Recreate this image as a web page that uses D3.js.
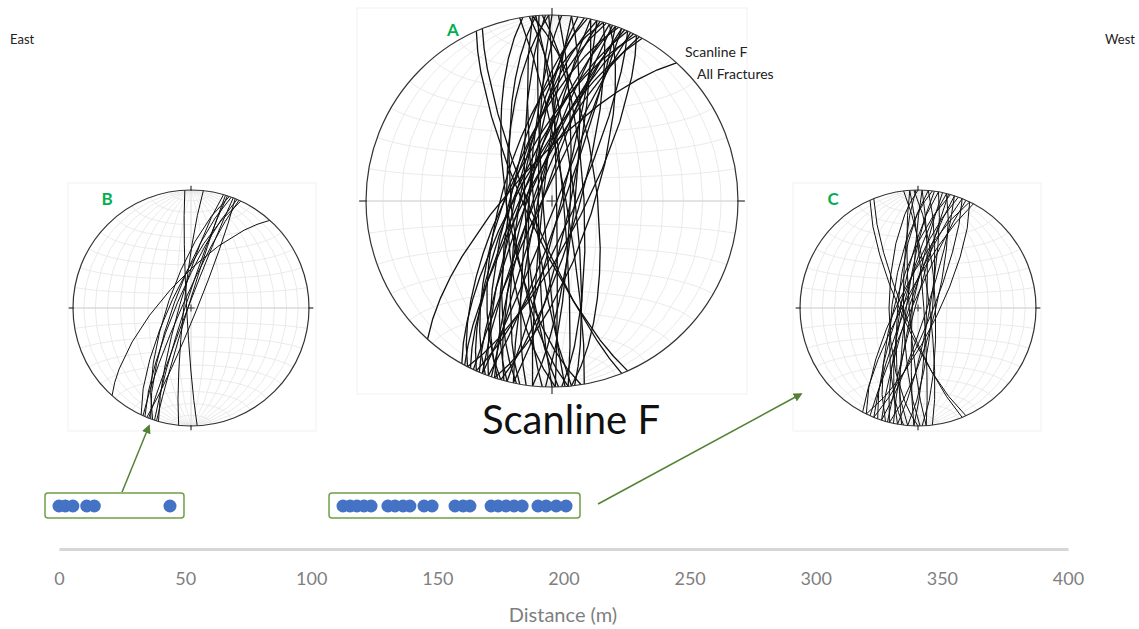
<!DOCTYPE html>
<html>
<head>
<meta charset="utf-8">
<script src="https://cdn.jsdelivr.net/npm/d3@7"></script>
<style>
  body { margin: 0; background: #fff; }
  text { font-family: Lato, 'Open Sans', sans-serif; }
</style>
</head>
<body>
<svg id="chart" width="1139" height="629"></svg>
<script>
// fracture positions along scanline F (m)
const scanGroup1 = [0, 2.5, 5.5, 11, 14, 44];
const scanGroup2 = [112.6, 115.4, 118.1, 120.9, 123.7, 130.4, 133.2, 136.4, 139.1, 144.7, 147.9,
  157, 160.2, 162.9, 171.3, 174.1, 177.2, 180.4, 183.6, 189.9, 193.1, 197.1, 201];
const distTicks = [0, 50, 100, 150, 200, 250, 300, 350, 400];

// fracture planes, right hand rule strike / dip (deg)
// A: all fractures
const netAStrike = [188, 190, 192, 194, 195, 197, 198, 200, 201, 203, 204, 205, 206, 207, 208, 196, 199, 202, 186, 191, 209,
  12, 16, 20, 24, 27, 22, 18, 14,
  353, 355, 357, 359, 2, 354, 6, 350,
  174, 176, 178, 180, 183, 175, 179, 171,
  156, 158, 222];
const netADip = [80, 76, 84, 74, 79, 72, 82, 77, 70, 80, 74, 86, 77, 71, 79, 68, 86, 83, 86, 72, 75,
  82, 78, 85, 80, 76, 88, 72, 86,
  80, 85, 76, 88, 82, 70, 80, 84,
  82, 86, 78, 84, 80, 72, 70, 70,
  78, 80, 73];
// B: first cluster (0-45 m)
const netBStrike = [177, 186, 196, 198, 200, 201, 203, 204, 205, 199, 197, 22, 222];
const netBDip = [87, 85, 82, 86, 78, 88, 80, 84, 76, 74, 88, 86, 71];
// C: second cluster (110-205 m)
const netCStrike = [156, 158, 353, 356, 358, 2, 5, 176, 179, 182, 185, 188, 190, 192, 194, 196, 198, 200, 202, 204,
  206, 208, 10, 14, 18, 22, 26, 195, 187, 180];
const netCDip = [78, 80, 82, 86, 78, 84, 80, 84, 80, 86, 76, 82, 78, 86, 80, 74, 84, 78, 82, 86,
  76, 80, 82, 78, 84, 80, 76, 88, 72, 70];

const svg = d3.select('#chart');
const rad = Math.PI / 180;
const green = '#548235';

// lower hemisphere direction -> lon/lat on a globe whose centre is straight down
const toGeo = (trend, plunge) => {
  const t = trend * rad;
  const p = plunge * rad;
  const x = Math.sin(p);
  const y = Math.cos(p) * Math.sin(t);
  const z = Math.cos(p) * Math.cos(t);
  return [Math.atan2(y, x) / rad, Math.asin(Math.max(-1, Math.min(1, z))) / rad];
};

const planeLine = (strike, dip) => ({
  type: 'LineString',
  coordinates: [toGeo(strike, 0), toGeo(strike + 90, dip), toGeo(strike + 180, 0)],
});

const graticule = d3.geoGraticule()
  .extentMinor([[-180, -90], [180, 90]])
  .step([10, 10]);

const drawNet = (cx, cy, r, strikes, dips, lw) => {
  const g = svg.append('g');
  const proj = d3.geoAzimuthalEqualArea()
    .scale(r / Math.SQRT2)
    .translate([cx, cy])
    .clipAngle(90);
  const path = d3.geoPath(proj);

  g.append('path')
    .datum(graticule())
    .attr('d', path)
    .attr('fill', 'none')
    .attr('stroke', '#e4e4e4')
    .attr('stroke-width', 0.8);

  // equator and central meridian
  g.append('line')
    .attr('x1', cx - r).attr('x2', cx + r).attr('y1', cy).attr('y2', cy)
    .attr('stroke', '#d2d2d2').attr('stroke-width', 1);
  g.append('line')
    .attr('x1', cx).attr('x2', cx).attr('y1', cy - r).attr('y2', cy + r)
    .attr('stroke', '#dedede').attr('stroke-width', 0.8);

  const planeProj = d3.geoAzimuthalEqualArea()
    .scale(r / Math.SQRT2)
    .translate([cx, cy]);
  const planePath = d3.geoPath(planeProj);

  g.selectAll('.plane')
    .data(strikes.map((s, i) => planeLine(s, dips[i])))
    .join('path')
    .attr('class', 'plane')
    .attr('d', planePath)
    .attr('fill', 'none')
    .attr('stroke', '#111')
    .attr('stroke-width', lw);

  g.append('circle')
    .attr('cx', cx).attr('cy', cy).attr('r', r)
    .attr('fill', 'none')
    .attr('stroke', '#333')
    .attr('stroke-width', 1.2);

  // N E S W ticks and centre cross
  const tk = r * 0.037;
  [[0, -1], [1, 0], [0, 1], [-1, 0]].forEach(([dx, dy]) => {
    g.append('line')
      .attr('x1', cx + dx * (r - 1)).attr('y1', cy + dy * (r - 1))
      .attr('x2', cx + dx * (r + tk)).attr('y2', cy + dy * (r + tk))
      .attr('stroke', '#333').attr('stroke-width', 1.2);
  });
  const cc = r * 0.03;
  g.append('path')
    .attr('d', `M${cx - cc},${cy}H${cx + cc}M${cx},${cy - cc}V${cy + cc}`)
    .attr('stroke', '#333').attr('stroke-width', 1);
};

// faint frames of the net images
[[357, 8, 390, 386], [68, 183, 248, 248], [793, 183, 248, 248]].forEach(([x, y, w, h]) => {
  svg.append('rect')
    .attr('x', x).attr('y', y).attr('width', w).attr('height', h)
    .attr('fill', 'none').attr('stroke', '#f1f1f1');
});

drawNet(552, 201, 186, netAStrike, netADip, 1.3);
drawNet(191, 308, 118, netBStrike, netBDip, 1);
drawNet(918, 308, 118, netCStrike, netCDip, 1);

// net labels
[['A', 453, 36], ['B', 107, 205], ['C', 833, 205]].forEach(([t, x, y]) => {
  svg.append('text')
    .attr('x', x).attr('y', y)
    .attr('text-anchor', 'middle')
    .attr('font-size', 17)
    .attr('font-weight', 'bold')
    .attr('fill', '#00b050')
    .text(t);
});

svg.append('text').attr('x', 685).attr('y', 57)
  .attr('font-size', 14).attr('fill', '#222').text('Scanline F');
svg.append('text').attr('x', 697).attr('y', 79)
  .attr('font-size', 14).attr('fill', '#222').text('All Fractures');

svg.append('text').attr('x', 10).attr('y', 44)
  .attr('font-size', 13).attr('fill', '#222').text('East');
svg.append('text').attr('x', 1135).attr('y', 44)
  .attr('text-anchor', 'end')
  .attr('font-size', 13).attr('fill', '#222').text('West');

svg.append('text').attr('x', 571).attr('y', 434)
  .attr('text-anchor', 'middle')
  .attr('font-size', 40).attr('fill', '#111').text('Scanline F');

// distance axis
const x = d3.scaleLinear().domain([0, 400]).range([59, 1068]);
const axisY = 549;

const axis = svg.append('g')
  .attr('transform', `translate(0, ${axisY})`)
  .call(d3.axisBottom(x).tickValues(distTicks).tickSize(0).tickSizeOuter(0).tickPadding(23));
axis.select('.domain')
  .attr('stroke', '#d6d6d6')
  .attr('stroke-width', 3);
axis.selectAll('text')
  .attr('font-family', 'Lato, sans-serif')
  .attr('font-size', 18)
  .attr('fill', '#7f7f7f');

svg.append('text').attr('x', 563).attr('y', 622)
  .attr('text-anchor', 'middle')
  .attr('font-size', 20).attr('fill', '#7f7f7f').text('Distance (m)');

// fracture clusters on the scanline
const dotY = 506;
const pad = 14;
[scanGroup1, scanGroup2].forEach((grp) => {
  const [lo, hi] = d3.extent(grp);
  svg.append('rect')
    .attr('x', x(lo) - pad)
    .attr('y', dotY - 13)
    .attr('width', x(hi) - x(lo) + pad * 2)
    .attr('height', 25)
    .attr('rx', 3)
    .attr('fill', 'none')
    .attr('stroke', '#6f9f45')
    .attr('stroke-width', 1.5);
  svg.selectAll(null)
    .data(grp)
    .join('circle')
    .attr('cx', d => x(d))
    .attr('cy', dotY)
    .attr('r', 6.5)
    .attr('fill', '#4472c4');
});

// arrows from clusters to their nets
svg.append('defs').append('marker')
  .attr('id', 'head')
  .attr('viewBox', '0 0 10 10')
  .attr('refX', 8).attr('refY', 5)
  .attr('markerWidth', 6).attr('markerHeight', 6)
  .attr('orient', 'auto')
  .append('path')
  .attr('d', 'M0,0L10,5L0,10z')
  .attr('fill', green);

const box2Right = x(d3.max(scanGroup2)) + pad;
[[x(25), dotY - 14, 149, 426], [box2Right + 18, dotY - 2, 801, 394]].forEach(([x1, y1, x2, y2]) => {
  svg.append('line')
    .attr('x1', x1).attr('y1', y1).attr('x2', x2).attr('y2', y2)
    .attr('stroke', green)
    .attr('stroke-width', 1.5)
    .attr('marker-end', 'url(#head)');
});
</script>
</body>
</html>
